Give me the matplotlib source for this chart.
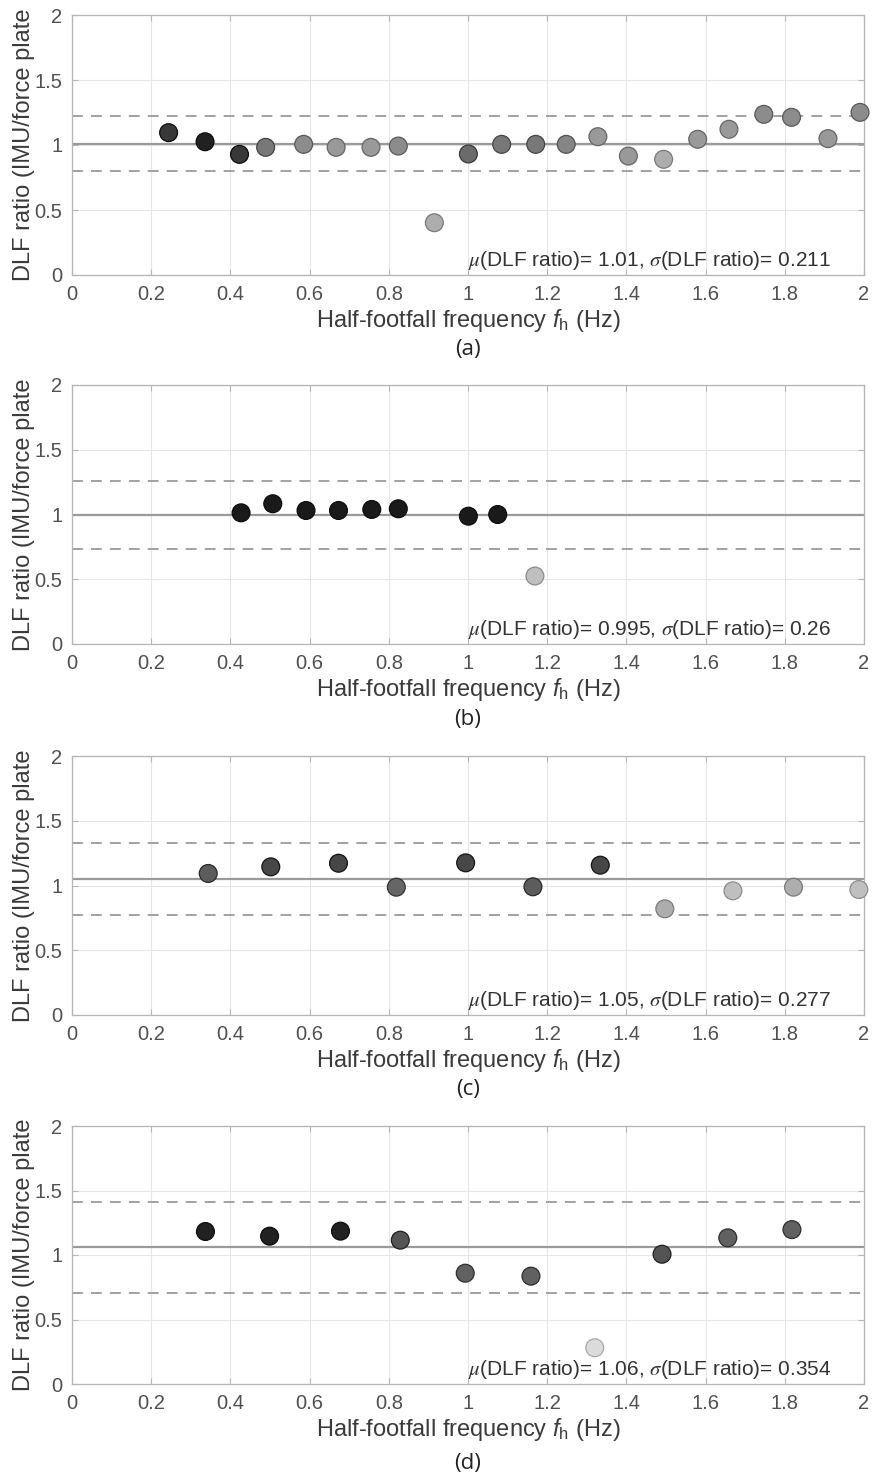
import matplotlib
matplotlib.use("Agg")
import matplotlib.pyplot as plt

plt.rcParams['font.family'] = ['Liberation Sans', 'DejaVu Sans']
plt.rcParams['mathtext.fontset'] = 'custom'
plt.rcParams['mathtext.rm'] = 'Liberation Sans'
plt.rcParams['mathtext.it'] = 'Liberation Sans:italic'

# panel (a)
freq_a = [0.244, 0.336, 0.423, 0.489, 0.585, 0.667, 0.755, 0.824, 0.915,
          1.001, 1.085, 1.171, 1.248, 1.328, 1.405, 1.494, 1.580, 1.659,
          1.747, 1.817, 1.909, 1.990]
ratio_a = [1.095, 1.025, 0.928, 0.982, 1.005, 0.982, 0.982, 0.992, 0.402,
           0.931, 1.005, 1.005, 1.005, 1.064, 0.915, 0.890, 1.044, 1.121,
           1.236, 1.213, 1.049, 1.251]
tone_a = [0.22, 0.13, 0.22, 0.47, 0.55, 0.60, 0.60, 0.55, 0.68,
          0.42, 0.47, 0.47, 0.52, 0.60, 0.60, 0.68, 0.60, 0.60,
          0.55, 0.55, 0.60, 0.55]
mean_a, std_a = 1.01, 0.211

# panel (b)
freq_b = [0.427, 0.507, 0.591, 0.673, 0.757, 0.824, 1.001, 1.075, 1.169]
ratio_b = [1.013, 1.083, 1.031, 1.031, 1.039, 1.044, 0.987, 1.000, 0.525]
tone_b = [0.10, 0.10, 0.10, 0.10, 0.10, 0.10, 0.10, 0.10, 0.75]
mean_b, std_b = 0.995, 0.26

# panel (c)
freq_c = [0.344, 0.502, 0.673, 0.819, 0.994, 1.164, 1.334, 1.497, 1.669,
          1.822, 1.987]
ratio_c = [1.093, 1.144, 1.172, 0.987, 1.175, 0.990, 1.157, 0.820, 0.959,
           0.987, 0.969]
tone_c = [0.36, 0.28, 0.28, 0.40, 0.28, 0.36, 0.28, 0.68, 0.75, 0.68, 0.75]
mean_c, std_c = 1.05, 0.277

# panel (d)
freq_d = [0.337, 0.499, 0.678, 0.829, 0.993, 1.159, 1.320, 1.490, 1.656,
          1.818]
ratio_d = [1.182, 1.146, 1.185, 1.115, 0.859, 0.836, 0.281, 1.006, 1.133,
           1.197]
tone_d = [0.13, 0.13, 0.13, 0.33, 0.38, 0.38, 0.86, 0.33, 0.38, 0.38]
mean_d, std_d = 1.06, 0.354

panels = [
    ('(a)', freq_a, ratio_a, tone_a, mean_a, std_a, '1.01', '0.211'),
    ('(b)', freq_b, ratio_b, tone_b, mean_b, std_b, '0.995', '0.26'),
    ('(c)', freq_c, ratio_c, tone_c, mean_c, std_c, '1.05', '0.277'),
    ('(d)', freq_d, ratio_d, tone_d, mean_d, std_d, '1.06', '0.354'),
]

W, H = 872, 1479
fig = plt.figure(figsize=(W / 100, H / 100), dpi=100)

# pixel boxes (top, bottom) of each axes, and y of the panel caption
boxes = [(15, 275, 349), (385, 644, 719), (756, 1015, 1089), (1126, 1384, 1463)]
left_px, right_px = 72, 864

line_grey = '#9a9a9a'
text_grey = '#3a3a3a'

for (cap, fx, ry, tone, mu, sd, mu_s, sd_s), (top, bot, cap_y) in zip(panels, boxes):
    ax = fig.add_axes([left_px / W, 1 - bot / H,
                       (right_px - left_px) / W, (bot - top) / H])
    ax.set_xlim(0, 2)
    ax.set_ylim(0, 2)
    ax.set_xticks([0, 0.2, 0.4, 0.6, 0.8, 1, 1.2, 1.4, 1.6, 1.8, 2])
    ax.set_xticklabels(['0', '0.2', '0.4', '0.6', '0.8', '1', '1.2', '1.4',
                        '1.6', '1.8', '2'])
    ax.set_yticks([0, 0.5, 1, 1.5, 2])
    ax.set_yticklabels(['0', '0.5', '1', '1.5', '2'])
    ax.grid(True, color='#e6e6e6', lw=0.8)
    ax.set_axisbelow(True)
    for s in ax.spines.values():
        s.set_color('#b5b5b5')
        s.set_linewidth(0.9)
    ax.tick_params(direction='in', length=4, width=0.8, color='#b5b5b5',
                   top=True, right=True, labelsize=14.5, labelcolor='#505050',
                   pad=7)

    ax.axhline(mu, color=line_grey, lw=1.6, zorder=2)
    ax.axhline(mu + sd, color=line_grey, lw=1.3, ls=(0, (6, 4.5)), zorder=2)
    ax.axhline(mu - sd, color=line_grey, lw=1.3, ls=(0, (6, 4.5)), zorder=2)

    colors = [(t, t, t) for t in tone]
    edges = [(max(t - 0.2, 0.05),) * 3 for t in tone]
    ax.scatter(fx, ry, s=165, c=colors, edgecolors=edges, linewidths=0.9,
               zorder=3, clip_on=False)

    ax.text(1.0, 0.02,
            r'$\mu$(DLF ratio)= ' + mu_s + r', $\sigma$(DLF ratio)= ' + sd_s,
            fontsize=15, color='#333333', ha='left', va='bottom',
            math_fontfamily='stix', zorder=4)

    ax.set_xlabel(r'Half-footfall frequency $f_\mathrm{h}$ (Hz)',
                  fontsize=17, color=text_grey)
    ax.xaxis.set_label_coords(0.5, -0.125)
    ax.set_ylabel('DLF ratio (IMU/force plate', fontsize=17, color=text_grey)
    ax.yaxis.set_label_coords(-0.047, 0.5)

    fig.text((left_px + right_px) / 2 / W, 1 - cap_y / H, cap,
             fontsize=16, family=['Open Sans', 'DejaVu Sans'],
             color='#222222', ha='center', va='center')

fig.savefig('out.png', dpi=100, facecolor='white')
